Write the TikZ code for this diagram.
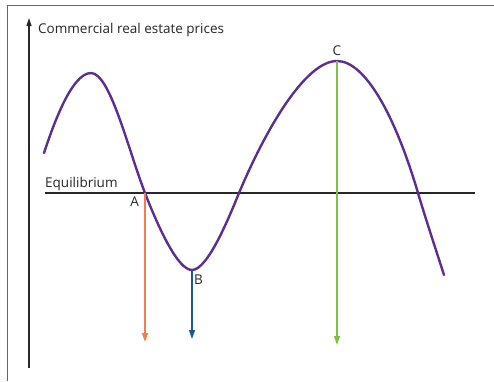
\documentclass[tikz,border=0pt]{standalone}
\usepackage{fontspec}
\setmainfont{Open Sans}
\usetikzlibrary{arrows.meta,positioning}
\definecolor{roxo}{RGB}{91,46,145}
\definecolor{laranja}{RGB}{244,125,75}
\definecolor{azul}{RGB}{22,90,150}
\definecolor{verde}{RGB}{125,194,66}
\definecolor{traco}{RGB}{40,40,40}
\tikzset{
  moldura/.style={draw=black!60,line width=1.2pt},
  eixo/.style={draw=traco,line width=1.2pt},
  curva/.style={draw=roxo,line width=2.4pt,line cap=round},
  seta/.style={-{Triangle[length=9pt,width=6pt]},line width=1.3pt},
  rotulo/.style={font=\fontsize{13.5}{16}\selectfont,text=black!85,inner sep=0pt},
}

\begin{document}
\begin{tikzpicture}[x=1pt,y=-1pt]
\useasboundingbox (0,0) rectangle (494,381);
% moldura
\coordinate (m0) at (7.5,381);
\coordinate (m1) at (7.5,5.5);
\coordinate (m2) at (494,5.5);
\draw[moldura] (m0) -- (m1) -- (m2);
% eixo vertical
\coordinate (o) at (29,368);
\coordinate (topo) at (29,18);
\draw[eixo,-{Triangle[length=8pt,width=5pt]}] (o) -- (topo);
\node[rotulo,anchor=base west] (titulo) at (38,33) {Commercial real estate prices};
% linha de equilibrio
\coordinate (eqL) at (45,193);
\coordinate (eqR) at (475,193);
\draw[eixo] (eqL) -- (eqR);
\node[rotulo,anchor=base west] (equil) at (45,187) {Equilibrium};
% pontos
\coordinate (A) at (145,193);
\coordinate (B) at (192,270);
\coordinate (C) at (337,61);
\coordinate (Afim) at (145,342);
\coordinate (Bfim) at (192,339);
\coordinate (Cfim) at (337,345);
% ciclo de precos
\draw[curva] (44,153) .. controls (52,129) and (71,73) .. (91,73)
  .. controls (110,73) and (128,149) .. (A)
  .. controls (159,229) and (178,270) .. (B)
  .. controls (208,270) and (230,215) .. (239,193)
  .. controls (265,131) and (305,61) .. (C)
  .. controls (365,61) and (395,115) .. (418,193)
  .. controls (426,220) and (436,250) .. (444,275);
% setas
\draw[seta,laranja] (A) -- (Afim);
\draw[seta,azul] (B) -- (Bfim);
\draw[seta,verde] (C) -- (Cfim);
\node[rotulo,below left=4pt and 6pt of A] (labA) {A};
\node[rotulo,below right=5pt and 2pt of B] (labB) {B};
\node[rotulo,above=5pt of C] (labC) {C};
\end{tikzpicture}
\end{document}
